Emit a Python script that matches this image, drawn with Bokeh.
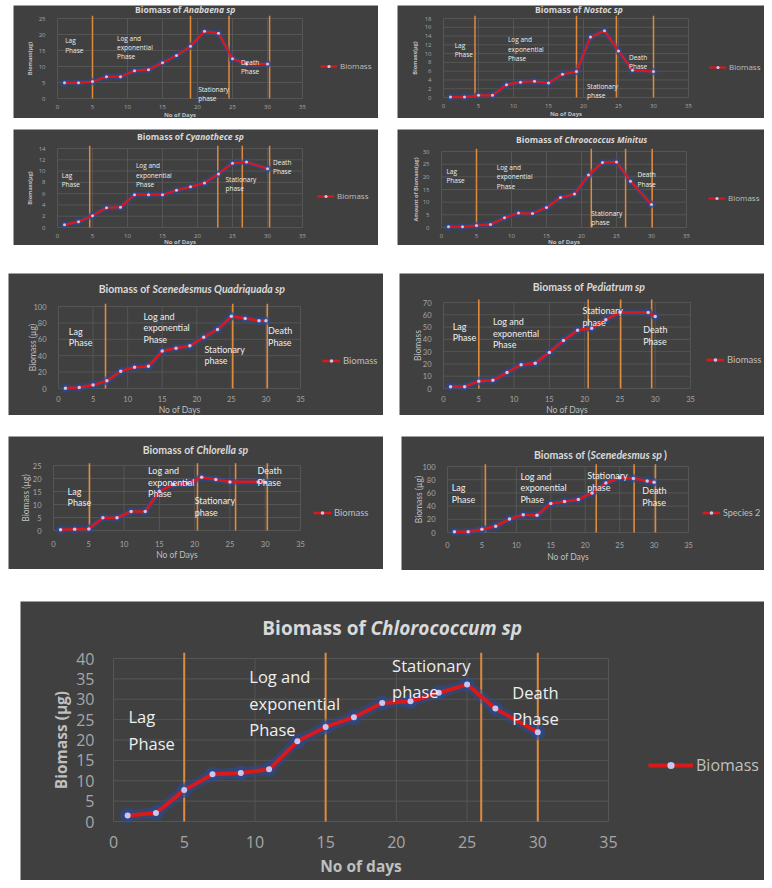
import math

from bokeh.plotting import figure, ColumnDataSource
from bokeh.models import FixedTicker, Label, Legend, LegendItem, Spacer
from bokeh.layouts import column, row
from bokeh.embed import file_html
from bokeh.resources import INLINE

# sampling days used in the growth experiments
DAYS = [1, 3, 5, 7, 9, 11, 13, 15, 17, 19, 21, 23, 25, 27, 30]
DAYS_29 = [1, 3, 5, 7, 9, 11, 13, 15, 17, 19, 21, 23, 25, 27, 29, 30]
DAYS_NO27 = [1, 3, 5, 7, 9, 11, 13, 15, 17, 19, 21, 23, 25, 29, 30]

ANABAENA = [4.9, 4.9, 5.3, 6.8, 6.8, 8.7, 9.0, 11.2, 13.4, 16.3, 21.0, 20.4, 12.4, 10.8, 10.8]
NOSTOC = [0.1, 0.1, 0.5, 0.5, 2.9, 3.5, 3.7, 3.3, 5.3, 5.9, 13.8, 15.2, 10.6, 6.2, 5.9]
CYANOTHECE = [0.5, 1.0, 2.1, 3.5, 3.6, 5.8, 5.8, 5.8, 6.6, 7.2, 7.9, 9.5, 11.4, 11.6, 10.4]
CHROOCOCCUS = [0.3, 0.3, 0.8, 1.2, 3.8, 5.7, 5.5, 7.9, 11.8, 13.2, 20.7, 25.7, 25.9, 18.3, 9.1]
SCENE_QUAD = [0.4, 1.2, 4.4, 9.3, 21, 26, 27, 45.6, 49.2, 52, 62.5, 72, 88, 85.5, 82.7, 82.7]
PEDIATRUM = [1.5, 1.5, 6, 6.7, 13, 19.4, 20.5, 29.4, 39, 47.5, 49, 56, 62, 61.8, 58.6]
CHLORELLA = [0.3, 0.5, 0.6, 4.9, 4.9, 7.3, 7.3, 15.1, 17.7, 18.2, 20.5, 19.6, 18.7, 18.7, 18.5]
SCENEDESMUS = [1, 1, 5, 9.5, 20.5, 27, 26, 44, 47, 50, 60, 75, 83, 82, 78, 76]
CHLOROCOCCUM = [1.5, 2.1, 7.7, 11.6, 11.9, 12.8, 19.7, 23.2, 25.6, 29.1, 29.5, 31.6, 33.6, 27.7, 21.9]

X_TICKS = [0, 5, 10, 15, 20, 25, 30, 35]
X_MAX = 35

BG = '#404040'
GRID = '#5a5a5a'
TICK = '#a6a6a6'
AXIS = '#bfbfbf'
TITLE = '#d9d9d9'
NOTE = '#eeeeee'
RED = '#d81a1a'
GLOW = '#2a4a95'
DOT = '#c6c6f0'
ORANGE = '#e08a3e'

SMALL = dict(font='Open Sans', title=8.5, tick=6, note=6.5, lh=1.05, leg=8, axis=6, yaxis=5.5, axis_style='bold',
             lw=2.2, glow=5.5, ms=3, gw=17, gh=8, ytick_sd=6, xtick_sd=0, orange_w=1.5, gap=0.25)
MID = dict(font='Lato', title=10.5, tick=7.5, note=9, lh=1.05, leg=9.5, axis=8.5, yaxis=8.5, axis_style='normal',
           lw=2.6, glow=6.5, ms=3.5, gw=18, gh=9, ytick_sd=6, xtick_sd=1, orange_w=1.6, gap=0.25)
BIG = dict(font='Open Sans', title=19, tick=16, note=16.5, lh=1.15, leg=16, axis=15.5, yaxis=15.5,
           axis_style='bold', lw=4, glow=11, ms=6, gw=45, gh=18, ytick_sd=13, xtick_sd=8, orange_w=2, gap=0.25)

charts = [
    dict(style=SMALL, ox=13, oy=5, w=365, h=113, frame=(57, 302, 18, 98), ymax=25, ystep=5,
         days=DAYS, vals=ANABAENA, name='Anabaena sp', suffix='', title_at=(183, 9), legend_at=(320, 67),
         ylabel='Biomass(µg)', xlabel='No of Days', axis_at=(29, 114), legend='Biomass',
         phases=[5, 19, 24.5, 30.3],
         notes=[(1.1, 19.5, 'Lag\nPhase'), (8.5, 20.3, 'Log and\nexponential\n Phase'),
                (20.1, 4.3, 'Stationary\n phase'), (26.2, 12.8, 'Death\n Phase')]),
    dict(style=SMALL, ox=397, oy=5, w=367, h=113, frame=(443, 688, 18, 97), ymax=18, ystep=2,
         days=DAYS, vals=NOSTOC, name='Nostoc sp', suffix='', title_at=(583, 9), legend_at=(709, 68),
         ylabel='Biomass(µg)', xlabel='No of Days', axis_at=(414, 113.5), legend='Biomass',
         phases=[4.5, 19, 24.7, 30],
         notes=[(1.6, 12.9, 'Lag\nPhase'), (9.2, 14.2, 'Log and\nexponential\n Phase'),
                (20.5, 3.6, 'Stationary\nphase'), (26.5, 10.2, 'Death\n Phase')]),
    dict(style=SMALL, ox=13, oy=129, w=365, h=116, frame=(57, 302, 148, 227), ymax=14, ystep=2,
         days=DAYS, vals=CYANOTHECE, name='Cyanothece sp', suffix='', title_at=(185, 136), legend_at=(317, 197),
         ylabel='Biomass(µg)', xlabel='No of Days', axis_at=(29, 241.5), legend='Biomass',
         phases=[4.6, 22.9, 26.4, 30.3],
         notes=[(0.6, 10.1, 'Lag\nPhase'), (11.2, 11.7, 'Log and\nexponential\n Phase'),
                (24, 9.3, 'Stationary\n phase'), (30.8, 12.4, 'Death\nPhase')]),
    dict(style=SMALL, ox=397, oy=129, w=367, h=116, frame=(441, 686, 151, 227), ymax=30, ystep=5,
         days=DAYS, vals=CHROOCOCCUS, name='Chroococcus Minitus', suffix='', title_at=(564, 139),
         legend_at=(708, 199), ylabel='Amount of Biomass(µg)', xlabel='No of Days', axis_at=(415, 241.5),
         legend='Biomass', phases=[5, 21.4, 26.3, 30.1],
         notes=[(0.7, 24, 'Lag\nPhase'), (7.9, 25.5, 'Log and\nexponential\n Phase'),
                (21.4, 7.5, 'Stationary\n phase'), (28, 22.6, 'Death\n Phase')]),
    dict(style=MID, ox=8, oy=273, w=375, h=142, frame=(58, 300, 306, 388), ymax=100, ystep=20,
         days=DAYS_29, vals=SCENE_QUAD, name='Scenedesmus Quadriquada sp', suffix='', title_at=(152, 288),
         legend_at=(322, 361), ylabel='Biomass (µg)', xlabel='No of Days', axis_at=(32, 409), legend='Biomass',
         phases=[6.8, 25.2, 30.2],
         notes=[(1.5, 76.6, 'Lag\nPhase'), (12.3, 94.8, 'Log and\nexponential\n Phase'),
                (21.1, 54.4, 'Stationary\n phase'), (30.3, 77.4, 'Death\nPhase')]),
    dict(style=MID, ox=399, oy=273, w=365, h=142, frame=(443, 690, 302, 388), ymax=70, ystep=10,
         days=DAYS_NO27, vals=PEDIATRUM, name='Pediatrum sp', suffix='', title_at=(586, 286),
         legend_at=(706, 360), ylabel='Biomass', xlabel='No of Days', axis_at=(417, 409), legend='Biomass',
         phases=[5, 20.5, 25.1, 29.5],
         notes=[(1.3, 55, 'Lag\nPhase'), (7, 59, 'Log and\nexponential\n Phase'),
                (19.7, 68, 'Stationary\n phase'), (28.3, 52.5, 'Death\n Phase')]),
    dict(style=dict(MID, xtick_sd=4), ox=8, oy=436, w=375, h=133, frame=(53, 300, 465, 530),
         ymax=25, ystep=5, days=DAYS_NO27, vals=CHLORELLA, name='Chlorella sp', suffix='', title_at=(196, 449),
         legend_at=(313, 513), ylabel='Biomass (µg)', xlabel='No of Days', axis_at=(25, 554), legend='Biomass',
         phases=[5.1, 20.4, 25.8, 30.3],
         notes=[(2, 17.3, 'Lag\nPhase'), (13.4, 25.2, 'Log and\nexponential\nPhase'),
                (20, 13.5, 'Stationary\n phase'), (28.9, 25.2, 'Death\n Phase')]),
    dict(style=dict(MID, xtick_sd=3, gap=0, leg=9), ox=401, oy=436, w=363, h=134, frame=(447, 688, 466, 532),
         ymax=100, ystep=20, days=DAYS_29, vals=SCENEDESMUS, name='Scenedesmus sp', suffix=')',
         prefix='Biomass of (', title_at=(590, 454), legend_at=(702, 513), ylabel='Biomass (µg)',
         xlabel='No of Days', axis_at=(418, 556), legend='Species 2', phases=[5.5, 21.6, 27.1, 30.2],
         notes=[(0.6, 76, 'Lag\nPhase'), (10.6, 93.5, 'Log and\nexponential\n Phase'),
                (20.3, 94.5, 'Stationary\n phase'), (28.3, 72, 'Death\n Phase')]),
    dict(style=BIG, ox=20, oy=601, w=744, h=279, frame=(113, 608, 658, 821), ymax=40, ystep=5,
         days=DAYS, vals=CHLOROCOCCUM, name='Chlorococcum sp', suffix='', title_at=(370, 627),
         legend_at=(648, 767), ylabel='Biomass (µg)', xlabel='No of days', axis_at=(60, 865), legend='Biomass',
         phases=[5, 15, 26, 30],
         notes=[(1.06, 28.5, 'Lag\nPhase'), (9.6, 38.3, 'Log and\nexponential\n Phase'),
                (19.7, 41.2, 'Stationary\n phase'), (28.2, 34.6, 'Death\n Phase')]),
]


def growth_chart(c):
    s = c['style']
    fx0, fx1, fy0, fy1 = c['frame']
    kx = X_MAX / (fx1 - fx0)
    ky = c['ymax'] / (fy1 - fy0)

    def dx(px):
        return (px - fx0) * kx

    def dy(py):
        return (fy1 - py) * ky

    # the plot area fills the whole card; the axes sit at day 0 / biomass 0
    p = figure(width=c['w'], height=c['h'], title=None, tools='', toolbar_location=None, output_backend='svg',
               x_range=(dx(c['ox']), dx(c['ox'] + c['w'])), y_range=(dy(c['oy'] + c['h']), dy(c['oy'])),
               min_border=0)
    p.background_fill_color = BG
    p.border_fill_color = BG
    p.outline_line_color = None
    y_ticks = list(range(0, c['ymax'] + 1, c['ystep']))
    p.xaxis.ticker = FixedTicker(ticks=X_TICKS)
    p.yaxis.ticker = FixedTicker(ticks=y_ticks)
    p.xaxis.fixed_location = 0
    p.yaxis.fixed_location = 0
    for ax in (p.xaxis[0], p.yaxis[0]):
        ax.axis_line_color = None
        ax.major_tick_line_color = None
        ax.minor_tick_line_color = None
        ax.major_label_text_color = TICK
        ax.major_label_text_font = s['font']
        ax.major_label_text_font_size = '%spx' % s['tick']
    p.yaxis.major_label_standoff = s['ytick_sd']
    p.xaxis.major_label_standoff = s['xtick_sd']
    p.xgrid.visible = False
    p.ygrid.visible = False

    p.segment(x0=X_TICKS, y0=[0] * len(X_TICKS), x1=X_TICKS, y1=[c['ymax']] * len(X_TICKS),
              line_color=GRID, line_width=0.8)
    p.segment(x0=[0] * len(y_ticks), y0=y_ticks, x1=[X_MAX] * len(y_ticks), y1=y_ticks,
              line_color=GRID, line_width=0.8)

    n = len(c['phases'])
    p.segment(x0=c['phases'], y0=[0] * n, x1=c['phases'], y1=[c['ymax'] * 1.035] * n,
              line_color=ORANGE, line_width=s['orange_w'])

    source = ColumnDataSource({'day': c['days'], 'biomass': c['vals']})
    p.line('day', 'biomass', source=source, line_color=GLOW, line_alpha=0.5, line_width=s['glow'],
           line_join='round', line_cap='round')
    p.scatter('day', 'biomass', source=source, size=s['ms'] * 2.6, fill_color=GLOW, fill_alpha=0.5,
              line_color=None)
    red = p.line('day', 'biomass', source=source, line_color=RED, line_width=s['lw'], line_join='round')
    dots = p.scatter('day', 'biomass', source=source, size=s['ms'], fill_color=DOT, line_color=None)

    for x, y, txt in c['notes']:
        p.add_layout(Label(x=x, y=y, text=txt, text_baseline='top', text_align='left', text_color=NOTE,
                           text_font=s['font'], text_font_size='%spx' % s['note'],
                           text_line_height=s['lh']))

    # axis titles
    ax_x, ax_y = c['axis_at']
    p.add_layout(Label(x=X_MAX / 2, y=dy(ax_y), text=c['xlabel'], text_align='center', text_baseline='middle',
                       text_color=AXIS, text_font=s['font'], text_font_style=s['axis_style'],
                       text_font_size='%spx' % s['axis']))
    p.add_layout(Label(x=dx(ax_x), y=c['ymax'] / 2, text=c['ylabel'], angle=math.pi / 2, text_align='center',
                       text_baseline='middle', text_color=AXIS, text_font=s['font'],
                       text_font_style=s['axis_style'], text_font_size='%spx' % s['yaxis']))

    # chart title: plain part + italic species name
    jx, jy = c['title_at']
    size = '%spx' % s['title']
    p.add_layout(Label(x=dx(jx), y=dy(jy), x_offset=-s['title'] * s['gap'], text=c.get('prefix', 'Biomass of'),
                       text_align='right', text_baseline='middle', text_color=TITLE, text_font=s['font'],
                       text_font_style='bold', text_font_size=size))
    p.add_layout(Label(x=dx(jx), y=dy(jy), text=c['name'], text_align='left', text_baseline='middle',
                       text_color=TITLE, text_font=s['font'], text_font_style='bold italic',
                       text_font_size=size))
    if c['suffix']:
        p.add_layout(Label(x=dx(jx), y=dy(jy), x_offset=len(c['name']) * s['title'] * 0.5, text=c['suffix'],
                           text_align='left', text_baseline='middle', text_color=TITLE, text_font=s['font'],
                           text_font_style='bold', text_font_size=size))

    lx, ly = c['legend_at']
    legend = Legend(items=[LegendItem(label=c['legend'], renderers=[red, dots])],
                    location=(lx - c['ox'], c['oy'] + c['h'] - (ly + s['gh'] / 2)))
    legend.background_fill_alpha = 0
    legend.border_line_color = None
    legend.padding = 0
    legend.margin = 0
    legend.glyph_width = s['gw']
    legend.glyph_height = s['gh']
    legend.label_standoff = 3
    legend.label_text_color = AXIS
    legend.label_text_font = s['font']
    legend.label_text_font_size = '%spx' % s['leg']
    legend.label_height = s['gh']
    p.add_layout(legend)
    return p


figs = [growth_chart(c) for c in charts]

layout = column(
    Spacer(width=10, height=5),
    row(Spacer(width=13, height=10), figs[0], Spacer(width=19, height=10), figs[1]),
    Spacer(width=10, height=11),
    row(Spacer(width=13, height=10), figs[2], Spacer(width=19, height=10), figs[3]),
    Spacer(width=10, height=28),
    row(Spacer(width=8, height=10), figs[4], Spacer(width=16, height=10), figs[5]),
    Spacer(width=10, height=21),
    row(Spacer(width=8, height=10), figs[6], Spacer(width=18, height=10), figs[7]),
    Spacer(width=10, height=31),
    row(Spacer(width=20, height=10), figs[8]),
)

open("out.html", "w").write(file_html(layout, INLINE))
